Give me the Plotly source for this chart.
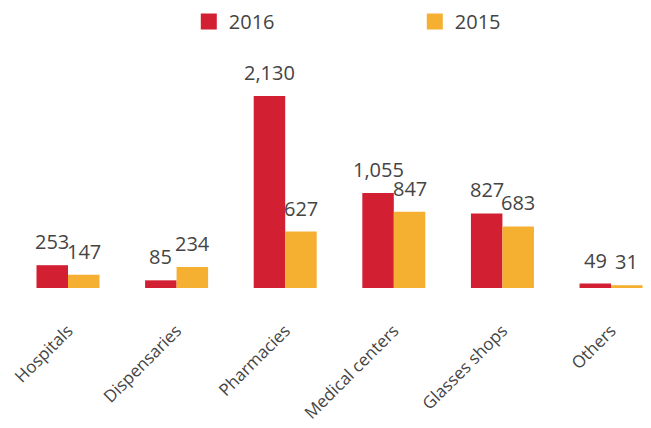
import plotly.graph_objects as go

categories = ["Hospitals", "Dispensaries", "Pharmacies", "Medical centers", "Glasses shops", "Others"]
values_2016 = [253, 85, 2130, 1055, 827, 49]
values_2015 = [147, 234, 627, 847, 683, 31]
series_names = ["2016", "2015"]

RED = "#D21F32"
ORANGE = "#F5B031"
TEXT = "#444444"
FONT = "Open Sans"

fig = go.Figure()
for name, vals, col in [(series_names[0], values_2016, RED), (series_names[1], values_2015, ORANGE)]:
    fig.add_trace(go.Bar(x=categories, y=vals, name=name, marker=dict(color=col, line=dict(width=0)),
                         showlegend=False, hoverinfo="skip"))
# legend-only entries with larger square markers
for name, col in [(series_names[0], RED), (series_names[1], ORANGE)]:
    fig.add_trace(go.Scatter(x=[None], y=[None], mode="markers", name=name,
                             marker=dict(symbol="square", size=16, color=col)))

# value labels above each bar
for k, vals in enumerate([values_2016, values_2015]):
    shift = -15.7 if k == 0 else 15.7
    for c, v in zip(categories, vals):
        fig.add_annotation(x=c, y=v, text=f"{v:,}", showarrow=False, xshift=shift, yshift=8,
                           yanchor="bottom", font=dict(family=FONT, size=20, color=TEXT))

fig.update_layout(
    width=651, height=428,
    margin=dict(l=0, r=0, t=40, b=140, autoexpand=False),
    paper_bgcolor="white", plot_bgcolor="white",
    barmode="group", bargap=0.42, bargroupgap=0,
    font=dict(family=FONT, size=18, color=TEXT),
    legend=dict(orientation="h", x=0.29, y=0.996, xanchor="left", yanchor="bottom",
                entrywidth=181, entrywidthmode="pixels",
                font=dict(family=FONT, size=20, color=TEXT)),
    xaxis=dict(range=[-0.626, 5.368], showgrid=False, showline=False, zeroline=False, automargin=False,
               tickangle=-45, ticks="outside", ticklen=25, tickcolor="rgba(0,0,0,0)",
               tickfont=dict(family=FONT, size=17, color=TEXT)),
    yaxis=dict(visible=False, range=[0, 2752], automargin=False),
)

fig.write_html("out.html", config={"displayModeBar": False},
               post_script="document.body.style.margin='0';document.body.style.overflow='hidden';")
